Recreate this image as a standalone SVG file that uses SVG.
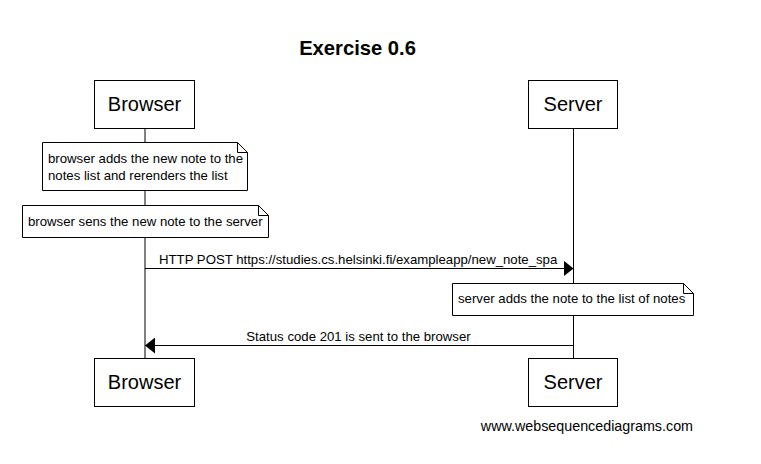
<svg xmlns="http://www.w3.org/2000/svg" width="761" height="464" viewBox="0 0 761 464">
<style>
text{font-family:"Liberation Sans",Arial,sans-serif;fill:#000}
.box{fill:#fff;stroke:#000;stroke-width:1}
.life{stroke:#000;stroke-width:1}
.actor{font-size:20px;text-anchor:middle}
.note{fill:#fff;stroke:#000;stroke-width:1}
.nt{font-size:13.2px}
.msg{stroke:#000;stroke-width:1;fill:none}
.ml{font-size:13.2px}
</style>
<defs>
<marker id="ah" markerWidth="10" markerHeight="16" refX="10" refY="8" orient="auto" markerUnits="userSpaceOnUse">
<path d="M0,0 L10,8 L0,16 Z" fill="#000"/>
</marker>
</defs>
<rect width="761" height="464" fill="#fff"/>
<text x="357.5" y="55" font-size="20.2" font-weight="bold" text-anchor="middle">Exercise 0.6</text>
<g id="lifelines">
<line class="life" x1="145" y1="129" x2="145" y2="358"/>
<line class="life" x1="573.5" y1="129" x2="573.5" y2="358"/>
</g>
<g id="browser-top"><rect class="box" x="94.5" y="80.5" width="100" height="48"/><text class="actor" x="144.5" y="111">Browser</text></g>
<g id="server-top"><rect class="box" x="528.5" y="80.5" width="89" height="48"/><text class="actor" x="573" y="111">Server</text></g>
<g id="note1"><path class="note" d="M42.5,142.5 H237.5 L247.5,152.5 V190.5 H42.5 Z M237.5,142.5 V152.5 H247.5"/><text class="nt" x="48" y="163">browser adds the new note to the</text><text class="nt" x="48" y="180">notes list and rerenders the list</text></g>
<g id="note2"><path class="note" d="M22.5,205.5 H258.5 L268.5,215.5 V237.5 H22.5 Z M258.5,205.5 V215.5 H268.5"/><text class="nt" x="28" y="226">browser sens the new note to the server</text></g>
<g id="note3"><path class="note" d="M452.5,283.5 H683.5 L693.5,293.5 V315.5 H452.5 Z M683.5,283.5 V293.5 H693.5"/><text class="nt" x="458" y="303">server adds the note to the list of notes</text></g>
<g id="connectors">
<line class="msg" x1="145" y1="268.5" x2="573.5" y2="268.5" marker-end="url(#ah)"/>
<text class="ml" x="159" y="264">HTTP POST https://studies.cs.helsinki.fi/exampleapp/new_note_spa</text>
<line class="msg" x1="573.5" y1="345.5" x2="145" y2="345.5" marker-end="url(#ah)"/>
<text class="ml" x="358.5" y="341" text-anchor="middle">Status code 201 is sent to the browser</text>
</g>
<g id="browser-bottom"><rect class="box" x="94.5" y="358.5" width="100" height="48"/><text class="actor" x="144.5" y="389">Browser</text></g>
<g id="server-bottom"><rect class="box" x="528.5" y="358.5" width="89" height="48"/><text class="actor" x="573" y="389">Server</text></g>
<text x="693" y="431" font-size="14.3" text-anchor="end">www.websequencediagrams.com</text>
</svg>
